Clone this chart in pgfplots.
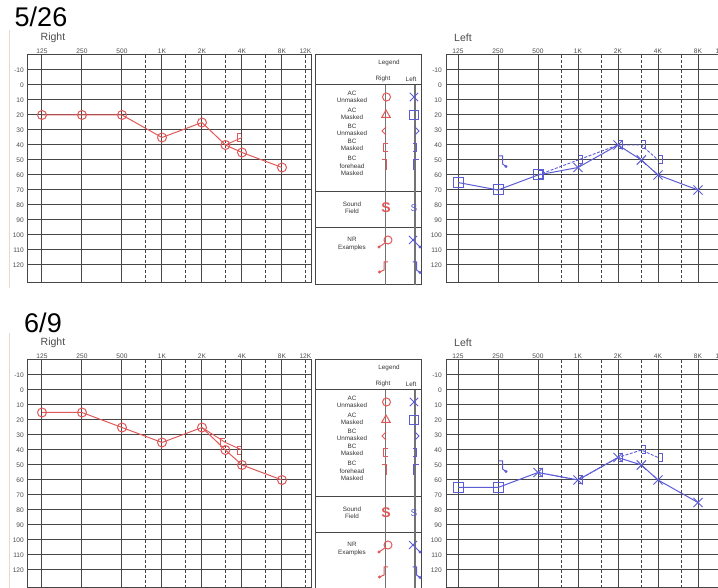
\documentclass[border=0pt]{standalone}
\usepackage{pgfplots}
\pgfplotsset{compat=1.18}
\usepackage{fontspec}
\setmainfont{Liberation Sans}
\definecolor{audred}{RGB}{226,88,88}
\definecolor{audblue}{RGB}{92,92,215}
\definecolor{gridc}{RGB}{70,70,70}
\definecolor{tan}{RGB}{232,218,195}

% BC masked right "["
\pgfdeclareplotmark{bcR}{%
 \pgfpathmoveto{\pgfpoint{-0.5pt}{4pt}}\pgfpathlineto{\pgfpoint{-4.5pt}{4pt}}%
 \pgfpathlineto{\pgfpoint{-4.5pt}{-4pt}}\pgfpathlineto{\pgfpoint{-0.5pt}{-4pt}}\pgfusepathqstroke}
% BC masked left "]"
\pgfdeclareplotmark{bcL}{%
 \pgfpathmoveto{\pgfpoint{0.5pt}{4pt}}\pgfpathlineto{\pgfpoint{4.5pt}{4pt}}%
 \pgfpathlineto{\pgfpoint{4.5pt}{-4pt}}\pgfpathlineto{\pgfpoint{0.5pt}{-4pt}}\pgfusepathqstroke}
% NR left "]"
\pgfdeclareplotmark{bcLnr}{%
 \pgfpathmoveto{\pgfpoint{0.5pt}{4pt}}\pgfpathlineto{\pgfpoint{4.5pt}{4pt}}%
 \pgfpathlineto{\pgfpoint{4.5pt}{-4pt}}\pgfpathlineto{\pgfpoint{8pt}{-6.5pt}}\pgfusepathqstroke
 \pgfpathcircle{\pgfpoint{8pt}{-6.5pt}}{0.9pt}\pgfusepathqfillstroke}
% NR right "["
\pgfdeclareplotmark{bcRnr}{%
 \pgfpathmoveto{\pgfpoint{0pt}{4pt}}\pgfpathlineto{\pgfpoint{-4pt}{4pt}}%
 \pgfpathlineto{\pgfpoint{-4pt}{-4pt}}\pgfpathlineto{\pgfpoint{-8.5pt}{-6pt}}\pgfusepathqstroke
 \pgfpathcircle{\pgfpoint{-8.5pt}{-6pt}}{0.9pt}\pgfusepathqfillstroke}
% NR circle
\pgfdeclareplotmark{acRnr}{%
 \pgfpathcircle{\pgfpoint{0pt}{0pt}}{4pt}\pgfusepathqstroke
 \pgfpathmoveto{\pgfpoint{-2.8pt}{-2.8pt}}\pgfpathlineto{\pgfpoint{-9pt}{-7pt}}\pgfusepathqstroke
 \pgfpathcircle{\pgfpoint{-9pt}{-7pt}}{0.9pt}\pgfusepathqfillstroke}
% NR cross
\pgfdeclareplotmark{acLnr}{%
 \pgfpathmoveto{\pgfpoint{-4pt}{4pt}}\pgfpathlineto{\pgfpoint{4pt}{-4pt}}\pgfpathlineto{\pgfpoint{7pt}{-7pt}}%
 \pgfpathmoveto{\pgfpoint{-4pt}{-4pt}}\pgfpathlineto{\pgfpoint{4pt}{4pt}}\pgfusepathqstroke
 \pgfpathcircle{\pgfpoint{7pt}{-7pt}}{0.9pt}\pgfusepathqfillstroke}
% BC unmasked
\pgfdeclareplotmark{bcuR}{%
 \pgfpathmoveto{\pgfpoint{1pt}{4pt}}\pgfpathlineto{\pgfpoint{-3pt}{0pt}}\pgfpathlineto{\pgfpoint{1pt}{-4pt}}\pgfusepathqstroke}
\pgfdeclareplotmark{bcuL}{%
 \pgfpathmoveto{\pgfpoint{-1pt}{4pt}}\pgfpathlineto{\pgfpoint{3pt}{0pt}}\pgfpathlineto{\pgfpoint{-1pt}{-4pt}}\pgfusepathqstroke}
% BC forehead masked
\pgfdeclareplotmark{bcfR}{%
 \pgfpathmoveto{\pgfpoint{-4.5pt}{5pt}}\pgfpathlineto{\pgfpoint{0.5pt}{5pt}}\pgfpathlineto{\pgfpoint{0.5pt}{-5pt}}\pgfusepathqstroke}
\pgfdeclareplotmark{bcfL}{%
 \pgfpathmoveto{\pgfpoint{4.5pt}{5pt}}\pgfpathlineto{\pgfpoint{-0.5pt}{5pt}}\pgfpathlineto{\pgfpoint{-0.5pt}{-5pt}}\pgfusepathqstroke}

\newcommand{\tickfont}{\fontsize{6.6}{7}\selectfont}
\newcommand{\lgfont}{\fontsize{6.3}{7.3}\selectfont}

\pgfplotsset{
 audiogram/.style={
  scale only axis, anchor=north west, height=228pt,
  ymin=-20, ymax=132, y dir=reverse,
  xtick={0,1,2,3,4,5,6}, xticklabels={125,250,500,1K,2K,4K,8K},
  extra x ticks={2.585,3.585,4.585,5.585,6.585},
  extra x tick labels={,,,,12K},
  extra x tick style={grid=major, major grid style={gridc, line width=0.9pt, dash pattern=on 3pt off 2pt}},
  ytick={-10,0,...,120},
  yticklabels={-10,0,10,20,30,40,50,60,70,80,90,100,110,120},
  xmajorgrids, ymajorgrids,
  major grid style={gridc, line width=1pt},
  major tick length=0pt,
  xticklabel pos=upper,
  xticklabel style={font=\tickfont, text=black!70, inner sep=1pt},
  yticklabel style={font=\tickfont, text=black!70, inner sep=1pt, xshift=-3pt},
  axis line style={gridc, line width=1pt},
  clip=false,
 },
 acline/.style={line width=1pt, mark options={solid}},
}

\newcommand{\legendpanel}[1]{%
\begin{axis}[at={(315pt,#1)}, anchor=north west, scale only axis, width=106pt, height=230pt,
 xmin=315, xmax=421, ymin=55, ymax=285, y dir=reverse, xtick=\empty, ytick=\empty,
 axis line style={gridc, line width=1pt}, clip=false]
 \draw[gridc, line width=1pt] (axis cs:315,85) -- (axis cs:421,85);
 \draw[gridc, line width=1pt] (axis cs:315,192) -- (axis cs:421,192);
 \draw[gridc, line width=1pt] (axis cs:315,228) -- (axis cs:421,228);
 \draw[black!55, line width=1.4pt] (axis cs:385.5,85) -- (axis cs:385.5,285);
 \draw[black!55, line width=1.4pt] (axis cs:415,85) -- (axis cs:415,285);
 \node[font=\lgfont, text=black!80] at (axis cs:389,63) {Legend};
 \node[font=\lgfont, text=black!80] at (axis cs:383,79) {Right};
 \node[font=\lgfont, text=black!80] at (axis cs:411,79) {Left};
 \node[font=\lgfont, text=black!80, align=center] at (axis cs:352,97) {AC\\Unmasked};
 \node[font=\lgfont, text=black!80, align=center] at (axis cs:352,114) {AC\\Masked};
 \node[font=\lgfont, text=black!80, align=center] at (axis cs:352,130) {BC\\Unmasked};
 \node[font=\lgfont, text=black!80, align=center] at (axis cs:352,145) {BC\\Masked};
 \node[font=\lgfont, text=black!80, align=center] at (axis cs:352,166) {BC\\forehead\\Masked};
 \node[font=\lgfont, text=black!80, align=center] at (axis cs:352,207.5) {Sound\\Field};
 \node[font=\lgfont, text=black!80, align=center] at (axis cs:352,244) {NR\\Examples};
 \addplot[audred, only marks, mark=o, mark size=4pt, line width=1pt] coordinates {(386.5,97)};
 \addplot[audblue, only marks, mark=x, mark size=6pt, line width=1pt] coordinates {(414,97)};
 \addplot[audred, only marks, mark=triangle, mark size=5pt, line width=1pt] coordinates {(386,115)};
 \addplot[audblue, only marks, mark=square, mark size=4.5pt, line width=1pt] coordinates {(414,115)};
 \addplot[audred, only marks, mark=bcuR, line width=1pt] coordinates {(385,131)};
 \addplot[audblue, only marks, mark=bcuL, line width=1pt] coordinates {(416,131)};
 \addplot[audred, only marks, mark=bcR, line width=1pt] coordinates {(388,148)};
 \addplot[audblue, only marks, mark=bcL, line width=1pt] coordinates {(412,148)};
 \addplot[audred, only marks, mark=bcfR, line width=1pt] coordinates {(386,165)};
 \addplot[audblue, only marks, mark=bcfL, line width=1pt] coordinates {(414,165)};
 \addplot[only marks, mark=text, text mark={\textcolor{audred}{\fontsize{14}{14}\selectfont\bfseries S}}] coordinates {(386,208)};
 \addplot[only marks, mark=text, text mark={\textcolor{audblue}{\fontsize{10}{10}\selectfont S}}] coordinates {(414,208)};
 \addplot[audred, only marks, mark=acRnr, line width=1pt] coordinates {(388,240)};
 \addplot[audblue, only marks, mark=acLnr, line width=1pt] coordinates {(413,240)};
 \addplot[audred, only marks, mark=bcRnr, line width=1pt] coordinates {(388,266)};
 \addplot[audblue, only marks, mark=bcLnr, line width=1pt] coordinates {(412,266)};
\end{axis}}

\begin{document}
\begin{tikzpicture}[x=1pt,y=1pt]
\useasboundingbox (0,0) rectangle (718,588);
\clip (0,0) rectangle (718,588);
\fill[white] (0,0) rectangle (718,588);

% faint left rules
\draw[tan, line width=1pt] (9,558) -- (9,300);
\draw[tan, line width=1pt] (9,255) -- (9,0);

% titles
\node[font=\fontsize{27}{27}\selectfont] at (41,571) {5/26};
\node[font=\fontsize{27}{27}\selectfont] at (43,265) {6/9};
\node[font=\fontsize{10.5}{11}\selectfont, text=black!70] at (53,550) {Right};
\node[font=\fontsize{10.5}{11}\selectfont, text=black!70] at (463,550) {Left};
\node[font=\fontsize{10.5}{11}\selectfont, text=black!70] at (53,245) {Right};
\node[font=\fontsize{10.5}{11}\selectfont, text=black!70] at (463,245) {Left};

% ===== 5/26 Right =====
\begin{axis}[audiogram, at={(28pt,533pt)}, width=284pt, xmin=-0.35, xmax=6.75]
\addplot[audred, acline, mark=o, mark size=4.5pt] coordinates {(0,20)(1,20)(2,20)(3,35)(4,25)(4.585,40)(5,45)(6,55)};
\addplot[audred, line width=0.9pt] coordinates {(4.585,40)(5,35)};
\addplot[audred, only marks, mark=bcR, line width=0.9pt] coordinates {(5,35)};
\end{axis}
\legendpanel{533pt}
% ===== 5/26 Left =====
\begin{axis}[audiogram, at={(446pt,533pt)}, width=282pt, xmin=-0.3, xmax=6.75]
\addplot[audblue, line width=1pt] coordinates {(0,65)(1,70)(2,60)(3,55)(4,40)(4.585,50)(5,60)(6,70)};
\addplot[audblue, only marks, mark=square, mark size=5pt, line width=1pt] coordinates {(0,65)(1,70)(2,60)};
\addplot[audblue, only marks, mark=x, mark size=6.5pt, line width=1pt] coordinates {(3,55)(4,40)(4.585,50)(5,60)(6,70)};
\addplot[audblue, line width=0.9pt, dash pattern=on 3pt off 1.5pt] coordinates {(2,60)(3,50)(4,40)(4.585,40)(5,50)};
\addplot[audblue, only marks, mark=bcL, line width=1pt] coordinates {(2,60)(3,50)(4,40)(4.585,40)(5,50)};
\addplot[audblue, only marks, mark=bcLnr, line width=1pt] coordinates {(1,50)};
\end{axis}

% ===== 6/9 Right =====
\begin{axis}[audiogram, at={(28pt,228pt)}, width=284pt, xmin=-0.35, xmax=6.75]
\addplot[audred, acline, mark=o, mark size=4.5pt] coordinates {(0,15)(1,15)(2,25)(3,35)(4,25)(4.585,40)(5,50)(6,60)};
\addplot[audred, line width=0.9pt] coordinates {(4,25)(4.585,35)(5,40)};
\addplot[audred, only marks, mark=bcR, line width=0.9pt] coordinates {(4.585,35)(5,40)};
\end{axis}
\legendpanel{228pt}
% ===== 6/9 Left =====
\begin{axis}[audiogram, at={(446pt,228pt)}, width=282pt, xmin=-0.3, xmax=6.75]
\addplot[audblue, line width=1pt] coordinates {(0,65)(1,65)(2,55)(3,60)(4,45)(4.585,50)(5,60)(6,75)};
\addplot[audblue, only marks, mark=square, mark size=5pt, line width=1pt] coordinates {(0,65)(1,65)};
\addplot[audblue, only marks, mark=x, mark size=6.5pt, line width=1pt] coordinates {(2,55)(3,60)(4,45)(4.585,50)(5,60)(6,75)};
\addplot[audblue, line width=0.9pt, dash pattern=on 3pt off 1.5pt] coordinates {(2,55)(3,60)(4,45)(4.585,40)(5,45)};
\addplot[audblue, only marks, mark=bcL, line width=1pt] coordinates {(2,55)(3,60)(4,45)(4.585,40)(5,45)};
\addplot[audblue, only marks, mark=bcLnr, line width=1pt] coordinates {(1,50)};
\end{axis}
\end{tikzpicture}
\end{document}
